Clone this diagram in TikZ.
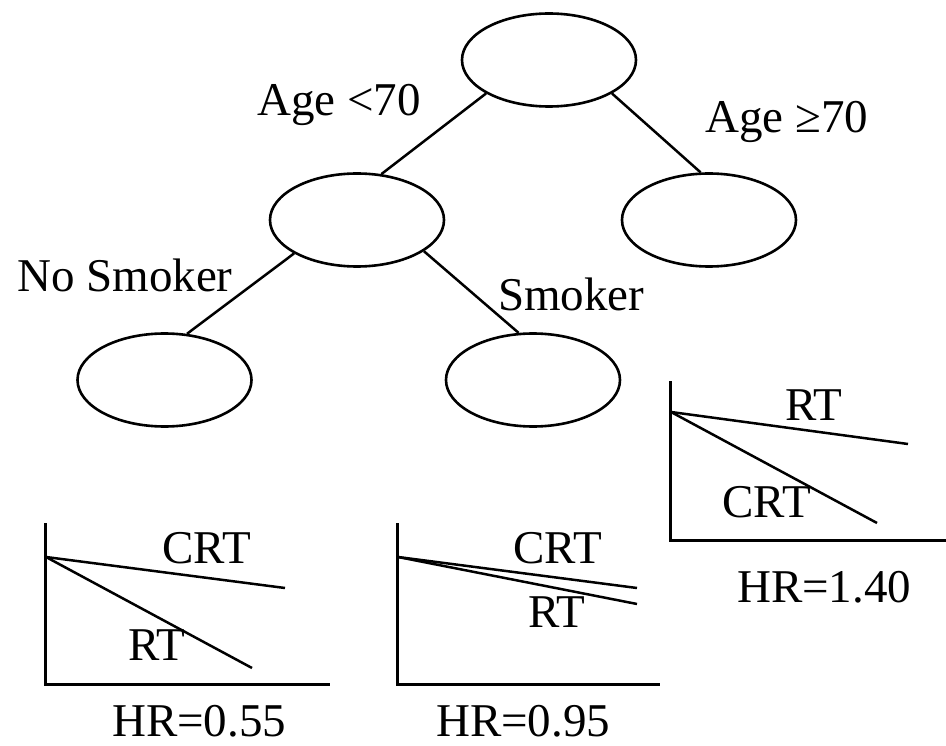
\documentclass[tikz,border=0pt]{standalone}
\usepackage{fontspec}
\setmainfont{Liberation Serif}
\usetikzlibrary{shapes.geometric}
\begin{document}
\begin{tikzpicture}[x=1pt,y=-1pt,
  treenode/.style={draw, ellipse, line width=2.6pt, minimum width=174pt,
                   minimum height=93pt, inner sep=0pt},
  branch/.style={line width=2.5pt},
  lbl/.style={anchor=base west, inner sep=0pt, text depth=0pt,
              font=\fontsize{47}{56}\selectfont},
  axisline/.style={line width=3pt},
  curve/.style={line width=2.5pt}]
\useasboundingbox (0,0) rectangle (946,746);

% decision tree
\node[treenode] (root) at (549,60) {};
\node[treenode] (young) at (357,220) {};
\node[treenode] (old) at (709,220) {};
\node[treenode] (nosmk) at (164.5,380) {};
\node[treenode] (smk) at (533,380) {};

\draw[branch] (root.208) -- (young.62);
\draw[branch] (root.-28) -- (old.100);
\draw[branch] (young.208) -- (nosmk.64);
\draw[branch] (young.-25) -- (smk.107);

\node[lbl] (lyoung) at (257,116) {Age <70};
\node[lbl] (lold) at (705,133) {Age ≥70};
\node[lbl] (lnosmk) at (17,292) {No Smoker};
\node[lbl] (lsmk) at (498,311) {Smoker};

% survival plot: non-smokers under 70
\draw[axisline] (45,523) |- (330,684);
\coordinate (o1) at (46,557);
\draw[curve] (o1) -- (285,588);
\draw[curve] (o1) -- (252,668);
\node[lbl] (c1crt) at (162,563) {CRT};
\node[lbl] (c1rt) at (128,660) {RT};
\node[lbl] (hr1) at (112,736) {HR=0.55};

% survival plot: smokers under 70
\draw[axisline] (397,523) |- (660,684);
\coordinate (o2) at (398,557);
\draw[curve] (o2) -- (637,588);
\draw[curve] (o2) -- (637,604);
\node[lbl] (c2crt) at (513,563) {CRT};
\node[lbl] (c2rt) at (528,627) {RT};
\node[lbl] (hr2) at (436,736) {HR=0.95};

% survival plot: 70 and over
\draw[axisline] (670,381) |- (946,540);
\coordinate (o3) at (671,412);
\draw[curve] (o3) -- (908,444);
\draw[curve] (o3) -- (877,523);
\node[lbl] (c3rt) at (785,420) {RT};
\node[lbl] (c3crt) at (722,517) {CRT};
\node[lbl] (hr3) at (737,602) {HR=1.40};
\end{tikzpicture}
\end{document}
